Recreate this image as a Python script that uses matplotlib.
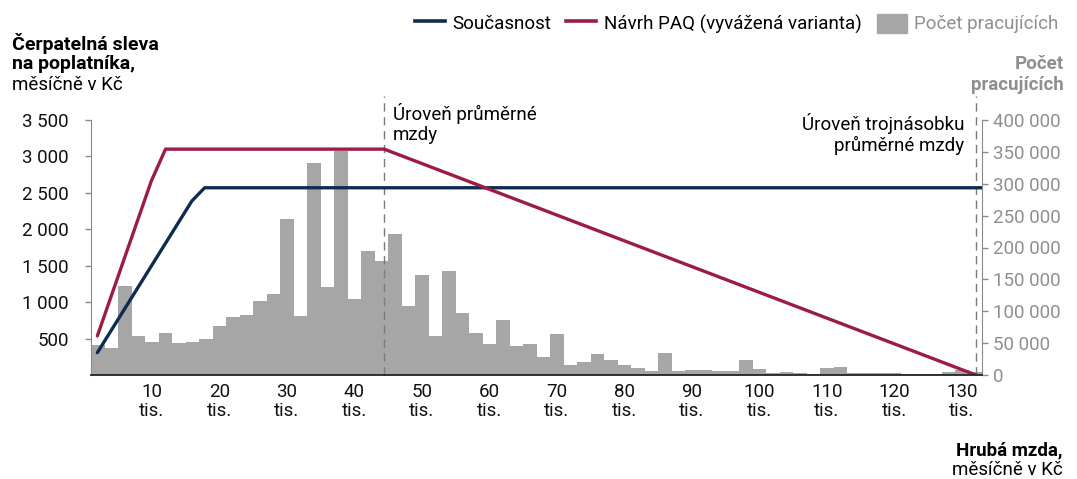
import matplotlib
matplotlib.use("Agg")
import matplotlib.pyplot as plt
from matplotlib.lines import Line2D
from matplotlib.patches import Patch

plt.rcParams['font.family'] = ['Roboto', 'DejaVu Sans']

# histogram: workers by gross monthly wage (thousands CZK), 2k bins starting at 1k
bin_start = list(range(1, 133, 2))
workers = [47000, 42000, 139000, 61000, 52500, 65500, 50000, 51500, 56000, 77500,
           91000, 94500, 116500, 127500, 245000, 93000, 332000, 137500, 352000, 119000,
           194000, 178500, 221500, 109000, 156500, 60500, 163500, 97000, 65500, 48500,
           85500, 45500, 48500, 28500, 64500, 15000, 20000, 33500, 23000, 15500,
           11500, 7000, 34500, 7000, 8500, 8500, 6000, 6000, 23000, 9000,
           2600, 4500, 3500, 2000, 10500, 12000, 3100, 2600, 2600, 2600,
           2000, 2000, 2000, 4500, 7500, 5000]

# tax credit lines (x in thousands CZK, y in CZK per month)
current_x = [1.9, 15.9, 17.8, 133]
current_y = [307, 2388, 2570, 2570]
paq_x = [1.9, 9.9, 12.0, 44.4, 132.1]
paq_y = [537, 2664, 3100, 3100, 0]

avg_wage = 44.4
triple_wage = 132.1

x_ticks = [10, 20, 30, 40, 50, 60, 70, 80, 90, 100, 110, 120, 130]
left_ticks = [500, 1000, 1500, 2000, 2500, 3000, 3500]
right_ticks = [0, 50000, 100000, 150000, 200000, 250000, 300000, 350000, 400000]

navy = '#0e2c50'
crimson = '#9b1d41'
bar_gray = '#a6a6a6'
label_gray = '#8f8f8f'
W, H = 1077, 479
FS = 13.5

def sp(v):
    return f"{v:,}".replace(",", " ")

fig = plt.figure(figsize=(W / 100, H / 100), dpi=100)
ax = fig.add_axes([91.3 / W, 1 - 375 / H, (982 - 91.3) / W, (375 - 120) / H])
ax2 = ax.twinx()
ax.set_zorder(ax2.get_zorder() + 1)
ax.patch.set_visible(False)

ax2.bar(bin_start, workers, width=2, align='edge', color=bar_gray, linewidth=0)
ax2.set_ylim(0, 400000)
ax2.set_yticks(right_ticks)
ax2.set_yticklabels([sp(v) for v in right_ticks])

ax.plot(current_x, current_y, color=navy, lw=2.4, solid_capstyle='round')
ax.plot(paq_x, paq_y, color=crimson, lw=2.4, solid_capstyle='round')

for xv in (avg_wage, triple_wage):
    ax.plot([xv, xv], [0, 3830], color='#7a7a7a', lw=1, ls=(0, (6, 4)), clip_on=False, zorder=1)

ax.set_xlim(1, 133)
ax.set_ylim(0, 3500)
ax.set_yticks(left_ticks)
ax.set_yticklabels([sp(v) for v in left_ticks])
ax.set_xticks(x_ticks)
ax.set_xticklabels([f"{v}\ntis." for v in x_ticks])

for a in (ax, ax2):
    a.spines['top'].set_visible(False)
ax.spines['bottom'].set_color('#222222')
ax.spines['bottom'].set_linewidth(1.3)
ax2.spines['bottom'].set_visible(False)
ax.spines['left'].set_color('#8a8a8a')
ax2.spines['right'].set_color('#8a8a8a')
ax.spines['right'].set_visible(False)
ax2.spines['left'].set_visible(False)

ax.tick_params(axis='x', length=0, pad=6, labelsize=FS, colors='#111111')
ax.tick_params(axis='y', length=4, width=1, color='#8a8a8a', pad=12, labelsize=FS, labelcolor='#111111')
ax2.tick_params(axis='y', length=4, width=1, color='#8a8a8a', pad=4, labelsize=FS, labelcolor=label_gray)
for t in ax.get_xticklabels():
    t.set_linespacing(1.05)

# legend
handles = [Line2D([], [], color=navy, lw=2.6),
           Line2D([], [], color=crimson, lw=2.6),
           Patch(color=bar_gray)]
leg = fig.legend(handles, ['Současnost', 'Návrh PAQ (vyvážená varianta)', 'Počet pracujících'],
                 loc='upper right', bbox_to_anchor=(1066 / W, 1 - 6 / H), ncol=3, frameon=False,
                 fontsize=FS, handlelength=1.6, handleheight=1.2, handletextpad=0.4,
                 columnspacing=0.8, borderaxespad=0)
leg.get_texts()[2].set_color(label_gray)

def ftext(x, y, s, size=FS, **kw):
    fig.text(x / W, 1 - y / H, s, va='center', fontsize=size, **kw)

ftext(12, 43, 'Čerpatelná sleva', ha='left', weight='bold', size=14)
ftext(12, 64, 'na poplatníka,', ha='left', weight='bold', size=14)
ftext(12, 85, 'měsíčně v Kč', ha='left')

ftext(1064, 64, 'Počet', ha='right', weight='bold', color=label_gray)
ftext(1064, 85, 'pracujících', ha='right', weight='bold', color=label_gray)

ftext(1063, 450, 'Hrubá mzda,', ha='right', weight='bold')
ftext(1063, 470, 'měsíčně v Kč', ha='right')

ftext(393, 113, 'Úroveň průměrné', ha='left')
ftext(393, 135, 'mzdy', ha='left')
ftext(964, 123, 'Úroveň trojnásobku', ha='right')
ftext(964, 145, 'průměrné mzdy', ha='right')

fig.savefig('out.png', dpi=100)
